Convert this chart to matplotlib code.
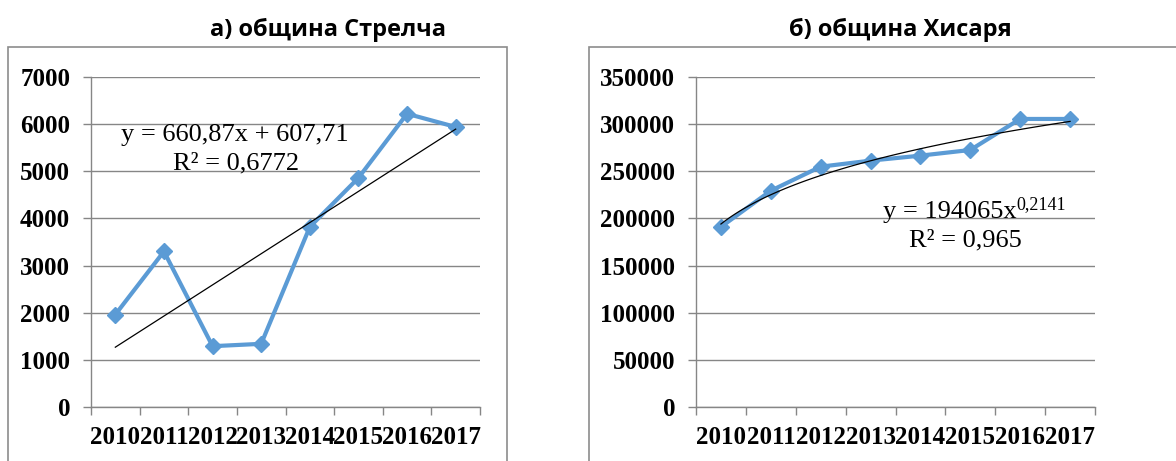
import matplotlib
matplotlib.use("Agg")
import matplotlib.pyplot as plt
from matplotlib.patches import Rectangle
import numpy as np

years = ["2010", "2011", "2012", "2013", "2014", "2015", "2016", "2017"]
strelcha = [1960, 3300, 1290, 1340, 3820, 4860, 6220, 5940]
hisarya = [191000, 229400, 254900, 261300, 266600, 272600, 305500, 305500]

# trend lines as reported on the chart (x = 1..8)
lin_a, lin_b = 660.87, 607.71
pow_a, pow_b = 194065, 0.2141

blue = "#5B9BD5"
grey = "#868686"

fig = plt.figure(figsize=(11.76, 4.61), dpi=100)
W, H = 1176, 461


def px_axes(x0, x1, y0, y1):
    return fig.add_axes([x0 / W, 1 - y1 / H, (x1 - x0) / W, (y1 - y0) / H])


def ftext(xp, yp, s, **kw):
    return fig.text(xp / W, 1 - yp / H, s, **kw)


def style(ax, ymax, step):
    n = len(years)
    ax.set_xlim(0.5, n + 0.5)
    ax.set_ylim(0, ymax)
    ax.set_yticks(np.arange(0, ymax + 1, step))
    # ticks between categories, labels in the middle
    ax.set_xticks(np.arange(0.5, n + 1, 1))
    ax.set_xticklabels([])
    ax.set_xticks(np.arange(1, n + 1), minor=True)
    ax.set_xticklabels(years, minor=True)
    ax.tick_params(axis="x", which="major", length=6, color=grey, width=1)
    ax.tick_params(axis="x", which="minor", length=0, pad=14)
    ax.tick_params(axis="y", length=6, color=grey, width=1, pad=9)
    for lab in ax.get_xticklabels(minor=True) + ax.get_yticklabels():
        lab.set_fontfamily("Liberation Serif")
        lab.set_fontweight("bold")
        lab.set_fontsize(18)
    ax.grid(axis="y", color=grey, lw=1)
    ax.set_axisbelow(True)
    for s in ["top", "right"]:
        ax.spines[s].set_visible(False)
    for s in ["left", "bottom"]:
        ax.spines[s].set_color(grey)
        ax.spines[s].set_linewidth(1)


x = np.arange(1, len(years) + 1)

# panel frames
fig.patches.append(Rectangle((8 / W, -0.1), 499 / W, 1.1 - 47 / H, transform=fig.transFigure,
                             fill=False, ec="#8c8c8c", lw=1.2))
fig.patches.append(Rectangle((589 / W, -0.1), 0.6, 1.1 - 47 / H, transform=fig.transFigure,
                             fill=False, ec="#8c8c8c", lw=1.2))

eq = dict(fontsize=19, family="Liberation Serif", va="center")

# a) Strelcha
ax1 = px_axes(91, 480, 77, 407)
style(ax1, 7000, 1000)
ax1.plot(x, strelcha, color=blue, lw=3, marker="D", ms=8.5, zorder=3)
ax1.plot([x[0], x[-1]], [lin_a * x[0] + lin_b, lin_a * x[-1] + lin_b], color="black", lw=0.9, zorder=4)
ftext(235, 135, "y = 660,87x + 607,71", ha="center", **eq)
ftext(236, 163, "R² = 0,6772", ha="center", **eq)
ftext(328, 30, "а) община Стрелча", ha="center", va="center",
      fontsize=17, fontweight="bold", family="Open Sans")

# b) Hisarya
ax2 = px_axes(696, 1095, 77, 407)
style(ax2, 350000, 50000)
ax2.plot(x, hisarya, color=blue, lw=3, marker="D", ms=8.5, zorder=3)
xs = np.linspace(1, len(years), 100)
ax2.plot(xs, pow_a * xs ** pow_b, color="black", lw=0.9, zorder=4)
t1 = ftext(883, 212, "y = 194065x", ha="left", **eq)
ax2.annotate("0,2141", xy=(1, 0.45), xycoords=t1, va="bottom", ha="left",
             fontsize=13, family="Liberation Serif")
ftext(965, 240, "R² = 0,965", ha="center", **eq)
ftext(900, 30, "б) община Хисаря", ha="center", va="center",
      fontsize=17, fontweight="bold", family="Open Sans")

fig.savefig("out.png", dpi=100)
